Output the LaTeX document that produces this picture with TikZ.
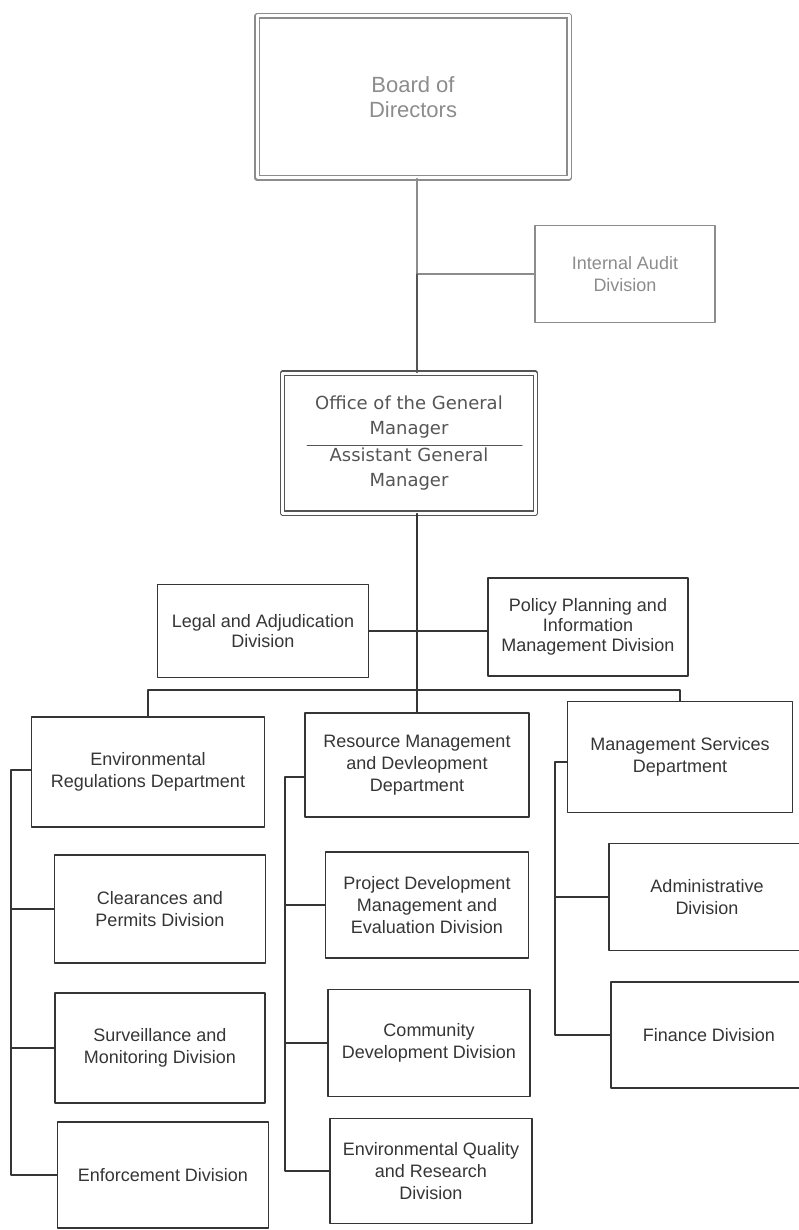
\documentclass[tikz,border=0pt]{standalone}
\usepackage{fontspec}
\setmainfont{Liberation Sans}
\newfontfamily\gmfont{DejaVu Sans}
\definecolor{ink}{HTML}{353535}
\definecolor{mid}{HTML}{555555}
\definecolor{faded}{HTML}{8C8C8C}
\tikzset{
  box/.style={draw=ink, line width=1.1pt, align=center, text=ink, inner sep=2pt,
    font=\fontsize{18}{22}\selectfont},
  pale/.style={box, draw=faded, text=faded},
  dbox/.style={double, double distance=3pt, line width=1.1pt},
  link/.style={draw=ink, line width=1.1pt},
}
\begin{document}
\begin{tikzpicture}[x=1pt, y=-1pt, line join=round, line cap=round]
\useasboundingbox (0,0) rectangle (799,1230);
% top of the chart
\node[pale, dbox, minimum width=312, minimum height=162, font=\fontsize{22}{25}\selectfont] (board) at (413,97) {Board of\\Directors};
\node[pale, minimum width=180, minimum height=97] (audit) at (625,274) {Internal Audit\\Division};
\node[box, dbox, draw=mid, text=mid, minimum width=253, minimum height=140,
  font=\gmfont\fontsize{18}{25}\selectfont] (gm) at (409,443) {Office of the General\\Manager\\[2pt]Assistant General\\Manager};
\draw[mid, line width=1pt] ([xshift=-102pt, yshift=-2pt]gm.center) -- ([xshift=113pt, yshift=-2pt]gm.center);
\node[box, minimum width=211, minimum height=93, font=\fontsize{18}{20}\selectfont] (legal) at (263,631) {Legal and Adjudication\\Division};
\node[box, minimum width=200, minimum height=98, font=\fontsize{18}{20}\selectfont] (policy) at (588,627) {Policy Planning and\\Information\\Management Division};
% departments
\node[box, minimum width=233, minimum height=110] (env) at (148,772) {Environmental\\Regulations Department};
\node[box, minimum width=224, minimum height=104] (rmd) at (417,765) {Resource Management\\and Devleopment\\Department};
\node[box, minimum width=225, minimum height=111] (msd) at (680,757) {Management Services\\Department};
% divisions
\node[box, minimum width=211, minimum height=108] (clear) at (160,909) {Clearances and\\Permits Division};
\node[box, minimum width=210, minimum height=110] (surv) at (160,1048) {Surveillance and\\Monitoring Division};
\node[box, minimum width=211, minimum height=106] (enf) at (163,1175) {Enforcement Division};
\node[box, minimum width=203, minimum height=106] (proj) at (427,905) {Project Development\\Management and\\Evaluation Division};
\node[box, minimum width=202, minimum height=107] (comm) at (429,1043) {Community\\Development Division};
\node[box, minimum width=202, minimum height=105] (eq) at (431,1171) {Environmental Quality\\and Research\\Division};
\node[box, minimum width=196, minimum height=107] (admin) at (707,897) {Administrative\\Division};
\node[box, minimum width=196, minimum height=106] (fin) at (709,1035) {Finance Division};
% lines
\coordinate (trunk) at (417,0);
\coordinate (bus) at (417,690);
\coordinate (spineL) at (11,0);
\coordinate (spineM) at (285,0);
\coordinate (spineR) at (555,0);
\draw[link, draw=faded] (trunk |- board.south) -- (trunk |- audit.west) -- (audit.west);
\draw[link, draw=mid] (trunk |- audit.west) -- (trunk |- gm.north);
\draw[link] (trunk |- gm.south) -- (trunk |- rmd.north);
\draw[link] (legal.east) -- (legal.east -| policy.west);
\draw[link] (env.north) |- (bus) -| (msd.north);
\draw[link] ([yshift=2pt]env.west) -| (spineL |- enf.west) -- (enf.west);
\foreach \n in {clear,surv} \draw[link] (\n.west) -- (spineL |- \n.west);
\draw[link] ([yshift=-12pt]rmd.west) -| (spineM |- eq.west) -- (eq.west);
\foreach \n in {proj,comm} \draw[link] (\n.west) -- (spineM |- \n.west);
\draw[link] ([yshift=-5pt]msd.west) -| (spineR |- fin.west) -- (fin.west);
\draw[link] (admin.west) -- (spineR |- admin.west);
\end{tikzpicture}
\end{document}
